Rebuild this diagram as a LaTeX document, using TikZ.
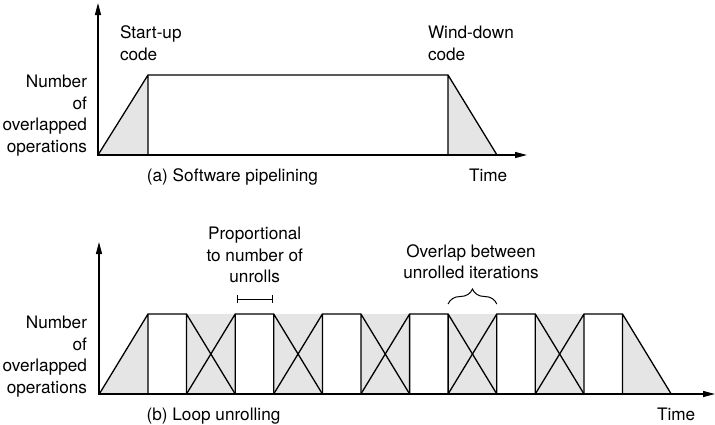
\documentclass[tikz,border=0pt]{standalone}
\usepackage{fontspec}
\setmainfont{TeX Gyre Heros}
\usetikzlibrary{calc}
\usetikzlibrary{positioning}
\usetikzlibrary{arrows.meta}
\usetikzlibrary{decorations.pathreplacing}

\begin{document}
\begin{tikzpicture}[x=1pt,y=-1pt]
\fontsize{17.2}{21.5}\selectfont

\tikzset{every node/.style={inner sep=0pt, outer sep=0pt},
	axis/.style={line width=1.3pt, {Triangle[length=12pt,width=6pt]}-{Triangle[length=12pt,width=6pt]}},
	curve/.style={line width=1.3pt},
	overlap/.style={fill=gray!20}}

\useasboundingbox (0,0) rectangle (715,424);

\coordinate (origina) at (98,155);
\coordinate (topa) at (98,3);
\coordinate (righta) at (527,155);
\coordinate (upa) at (148,75);
\coordinate (downa) at (448,75);
\coordinate (enda) at (497,155);

\fill[overlap] (origina) -- (upa) -- (upa |- origina) -- cycle
	(downa) -- (enda) -- (downa |- enda) -- cycle;
\draw[curve] (origina) -- (upa) -- (downa) -- (enda)
	(upa) -- (upa |- origina)
	(downa) -- (downa |- enda);
\draw[axis] (topa) -- (origina) -- (righta);

\node[anchor=north west, align=left] (startup) at (120,26) {Start-up\\code};
\node[anchor=north west, align=left] (winddown) at (428,26) {Wind-down\\code};
\node[anchor=base west] (timea) at (469,181) {Time};
\node[anchor=base] (captiona) at (232.5,181) {(a) Software pipelining};
\node[anchor=north east, align=right] (numbera) at (87,75) {Number\\of\\overlapped\\operations};

\coordinate (originb) at (99,394);
\coordinate (topb) at (99,242);
\coordinate (rightb) at (715,394);

\foreach \k in {0,...,5}{
	\pgfmathsetmacro\xs{99.3+87.2*\k}
	\coordinate (s\k) at (\xs,394);
	\coordinate (l\k) at (\xs+48.7,314);
	\coordinate (r\k) at (\xs+87.2,314);
	\coordinate (e\k) at (\xs+135.9,394);
}

\fill[overlap] (s0) -- (l0) -- (l0 |- s0) -- cycle
	(r5) -- (e5) -- (r5 |- e5) -- cycle;
\foreach \k [evaluate=\k as \n using int(\k+1)] in {0,...,4}
	\fill[overlap] (r\k) rectangle (l\n |- s0);
\foreach \k in {0,...,5}
	\draw[curve] (s\k) -- (l\k) -- (r\k) -- (e\k)
		(l\k) -- (l\k |- s\k)
		(r\k) -- (r\k |- e\k);
\draw[axis] (topb) -- (originb) -- (rightb);

\coordinate (markl) at ($(l1)+(1.5,-15)$);
\coordinate (markr) at ($(r1)+(-1,-15)$);
\coordinate (markc) at ($(markl)!0.5!(markr)$);
\draw[line width=1pt, {Bar[width=8pt]}-{Bar[width=8pt]}] (markl) -- (markr);
\node[above=16pt of markc, align=center] (unrolls) {Proportional\\to number of\\unrolls};

\coordinate (bracel) at ($(r3)+(0,-10)$);
\coordinate (bracer) at ($(l4)+(0,-10)$);
\draw[line width=1pt, decorate, decoration={brace, amplitude=15pt}] (bracel) -- (bracer);
\node[anchor=south, align=center] (overlapping) at (471,279) {Overlap between\\unrolled iterations};

\node[anchor=base west] (timeb) at (657,420) {Time};
\node[anchor=base] (captionb) at (213.5,420) {(b) Loop unrolling};
\node[anchor=north east, align=right] (numberb) at (87,316) {Number\\of\\overlapped\\operations};
\end{tikzpicture}
\end{document}
